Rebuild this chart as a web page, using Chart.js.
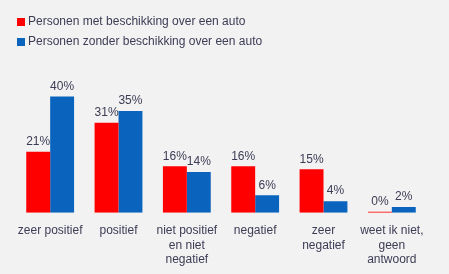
<!DOCTYPE html>
<html lang="nl">
<head>
<meta charset="utf-8">
<title>Houding</title>
<script src="https://cdn.jsdelivr.net/npm/chart.js@4.4.0/dist/chart.umd.min.js"></script>
<style>
  body { margin: 0; background: #f2f2f2; }
  #wrap { width: 449px; height: 274px; position: relative; }
</style>
</head>
<body>
<div id="wrap"><canvas id="mycanvas"></canvas></div>
<script>
// data
var categories = [
  'zeer positief',
  'positief',
  ['niet positief', 'en niet', 'negatief'],
  'negatief',
  ['zeer', 'negatief'],
  ['weet ik niet,', 'geen', 'antwoord']
];
var seriesNames = [
  'Personen met beschikking over een auto',
  'Personen zonder beschikking over een auto'
];
var metAuto = [21, 31, 16, 16, 15, 0];
var zonderAuto = [40, 35, 14, 6, 4, 2];

var textColor = '#3c3c55';
var fontFam = '"Liberation Sans", Arial, sans-serif';

// value labels above the bars
var valueLabels = {
  id: 'valueLabels',
  afterDatasetsDraw: function(chart) {
    var ctx = chart.ctx;
    ctx.save();
    ctx.font = '12px ' + fontFam;
    ctx.fillStyle = textColor;
    ctx.textAlign = 'center';
    ctx.textBaseline = 'bottom';
    chart.data.datasets.forEach(function(ds, i) {
      chart.getDatasetMeta(i).data.forEach(function(bar, j) {
        ctx.fillText(ds.data[j] + '%', bar.x, bar.y - 4);
      });
    });
    ctx.restore();
  }
};

// legend stacked at top left
var stackedLegend = {
  id: 'stackedLegend',
  afterDraw: function(chart) {
    var ctx = chart.ctx;
    ctx.save();
    ctx.font = '12px ' + fontFam;
    ctx.textBaseline = 'middle';
    chart.data.datasets.forEach(function(ds, i) {
      var y = 22 + i * 20;
      ctx.fillStyle = ds.backgroundColor;
      ctx.fillRect(17, y - 4, 8, 8);
      ctx.fillStyle = textColor;
      ctx.fillText(ds.label, 28, y);
    });
    ctx.restore();
  }
};

var ctx = document.getElementById('mycanvas');
var chart = new Chart(ctx, {
  type: 'bar',
  data: {
    labels: categories,
    datasets: [
      {
        label: seriesNames[0],
        backgroundColor: '#ff0000',
        data: metAuto,
        minBarLength: 1
      },
      {
        label: seriesNames[1],
        backgroundColor: '#0a64be',
        data: zonderAuto
      }
    ]
  },
  options: {
    responsive: true,
    maintainAspectRatio: false,
    animation: false,
    layout: { padding: { top: 82, left: 16, right: 23, bottom: -4 } },
    datasets: {
      bar: { categoryPercentage: 0.7, barPercentage: 1.0 }
    },
    plugins: {
      legend: { display: false },
      tooltip: { enabled: false }
    },
    scales: {
      x: {
        grid: { display: false, drawTicks: false },
        border: { display: false },
        ticks: {
          color: textColor,
          font: { size: 12, family: fontFam },
          maxRotation: 0,
          autoSkip: false,
          padding: 11
        }
      },
      y: {
        display: false,
        min: 0,
        max: 45
      }
    }
  },
  plugins: [valueLabels, stackedLegend]
});
</script>
</body>
</html>
